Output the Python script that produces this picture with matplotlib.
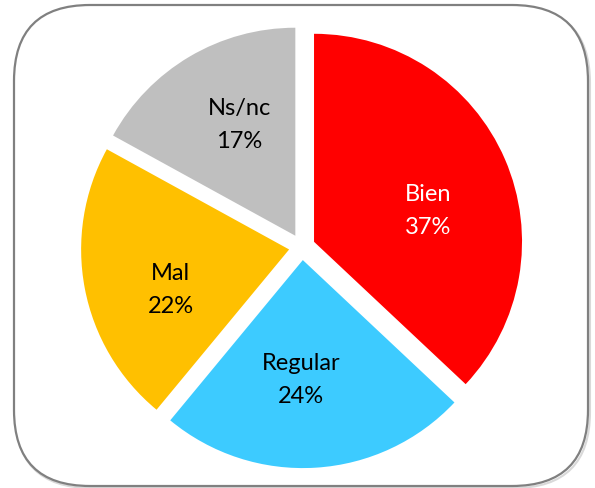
import matplotlib
import matplotlib.pyplot as plt
import numpy as np
from matplotlib.patches import FancyBboxPatch

matplotlib.use("Agg")

# datos
categorias = ["Bien", "Regular", "Mal", "Ns/nc"]
porcentajes = [37, 24, 22, 17]
colores = ["#FF0000", "#3DCBFF", "#FFC000", "#BFBFBF"]
color_texto = ["white", "black", "black", "black"]
# posicion de las etiquetas: distancia (fraccion del radio) y giro respecto a la bisectriz
dist_etiqueta = [0.57, 0.57, 0.60, 0.60]
giro_etiqueta = [-7.7, -4.6, 7.5, -4.0]

W, H = 595, 489
fig = plt.figure(figsize=(W / 100, H / 100), dpi=100)

# marco redondeado (coordenadas en pixeles)
fondo = fig.add_axes([0, 0, 1, 1])
fondo.set_xlim(0, W)
fondo.set_ylim(H, 0)
fondo.axis("off")
sombra = FancyBboxPatch((15, 8), 575, 481, boxstyle="round,pad=0,rounding_size=76",
                        fc="none", ec="#D9D9D9", lw=1.5)
fondo.add_patch(sombra)
marco = FancyBboxPatch((14, 6), 574, 481, boxstyle="round,pad=0,rounding_size=76",
                       fc="white", ec="#808080", lw=1.6)
fondo.add_patch(marco)

# tarta (unidades de radio, centro en el pixel 302,248)
R = 208.0
cx, cy = 302, 248
ax = fig.add_axes([0, 0, 1, 1])

wedges, textos = ax.pie(
    porcentajes,
    labels=[f"{c}\n{p}%" for c, p in zip(categorias, porcentajes)],
    colors=colores,
    startangle=90,
    counterclock=False,
    explode=[0.063] * 4,
    labeldistance=0.58,
    radius=1,
    wedgeprops=dict(linewidth=0),
    textprops=dict(fontsize=17, family="Lato", linespacing=1.7),
)
for w, t, c, d, g in zip(wedges, textos, color_texto, dist_etiqueta, giro_etiqueta):
    ang = np.deg2rad(0.5 * (w.theta1 + w.theta2) + g)
    x0, y0 = w.center
    t.set_position((x0 + d * np.cos(ang), y0 + d * np.sin(ang)))
    t.set_ha("center")
    t.set_va("center")
    t.set_color(c)

ax.set_xlim(-cx / R, (W - cx) / R)
ax.set_ylim(-(H - cy) / R, cy / R)
ax.axis("off")

fig.savefig("out.png", dpi=100)
